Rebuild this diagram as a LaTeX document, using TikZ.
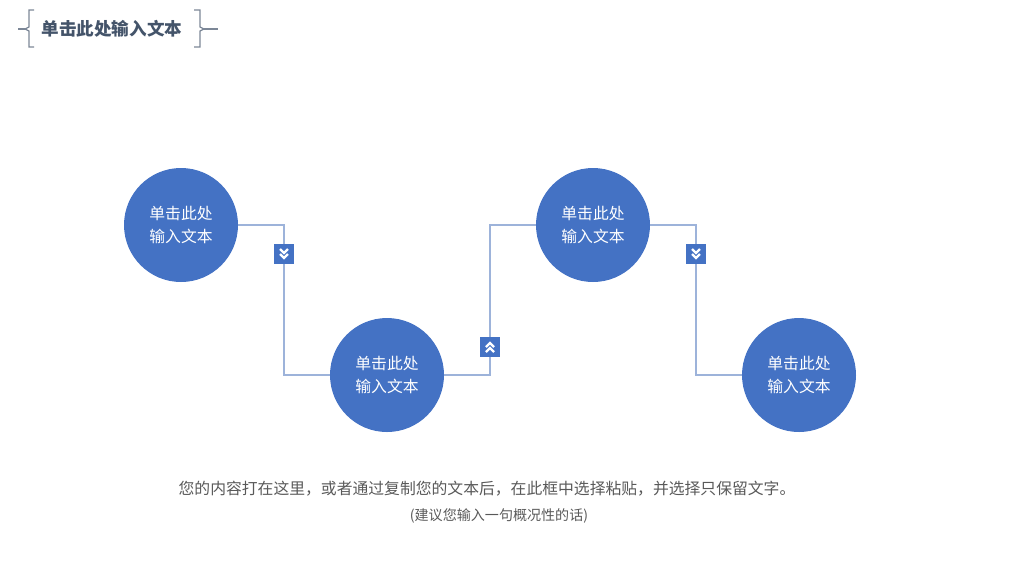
\documentclass[tikz,border=0pt]{standalone}
\usepackage{fontspec}
\setmainfont{Noto Sans CJK SC}
\usetikzlibrary{positioning}
\definecolor{mainblue}{HTML}{4472C4}
\definecolor{linkblue}{HTML}{9DB3DA}
\definecolor{titlegray}{HTML}{44546A}
\definecolor{textgray}{HTML}{595959}
\tikzset{
  stage/.style={circle, fill=mainblue, minimum size=114*0.02cm, inner sep=0pt, text=white, font=\fontsize{9}{13}\selectfont, align=center},
  marker/.style={fill=mainblue, minimum size=20*0.02cm, inner sep=0pt},
  link/.style={draw=linkblue, line width=0.8pt},
  chev/.style={draw=white, line width=1.3pt},
  brace/.style={draw=titlegray!70, line width=0.7pt}
}
\begin{document}
\begin{tikzpicture}[x=0.02cm, y=-0.02cm]
    \useasboundingbox (0,0) rectangle (1024,576);

    % Title.
    \node (title) [font=\bfseries\fontsize{10}{12}\selectfont, text=titlegray] at (112,29) {单击此处输入文本};
    \draw [brace] (34,10) -- (29,10) -- (29,27) -- (25,29) -- (29,31) -- (29,47) -- (34,47);
    \draw [brace] (25,29) -- (18,29);
    \draw [brace] (194,10) -- (200,10) -- (200,27) -- (204,29) -- (200,31) -- (200,47) -- (194,47);
    \draw [brace] (204,29) -- (218,29);

    % Stages.
    \node (stage 1) [stage] at (181,225) {单击此处\\输入文本};
    \node (stage 2) [stage] at (387,375) {单击此处\\输入文本};
    \node (stage 3) [stage] at (593,225) {单击此处\\输入文本};
    \node (stage 4) [stage] at (799,375) {单击此处\\输入文本};

    % Links.
    \draw [link] (stage 1.east) -| (284,300) |- (stage 2.west);
    \draw [link] (stage 2.east) -| (490,300) |- (stage 3.west);
    \draw [link] (stage 3.east) -| (696,300) |- (stage 4.west);

    % Markers.
    \node (marker 1) [marker] at (284,254) {};
    \node (marker 2) [marker] at (490,347) {};
    \node (marker 3) [marker] at (696,254) {};
    \foreach \m in {1, 3} {
        \draw [chev] ([shift={(-4,-5)}]marker \m.center) -- ([shift={(0,-1)}]marker \m.center) -- ([shift={(4,-5)}]marker \m.center);
        \draw [chev] ([shift={(-4,0)}]marker \m.center) -- ([shift={(0,4)}]marker \m.center) -- ([shift={(4,0)}]marker \m.center);
    }
    \draw [chev] ([shift={(-4,5)}]marker 2.center) -- ([shift={(0,1)}]marker 2.center) -- ([shift={(4,5)}]marker 2.center);
    \draw [chev] ([shift={(-4,0)}]marker 2.center) -- ([shift={(0,-4)}]marker 2.center) -- ([shift={(4,0)}]marker 2.center);

    % Notes.
    \node (note 1) [text=textgray, font=\fontsize{9}{11}\selectfont] at (487,489) {您的内容打在这里，或者通过复制您的文本后，在此框中选择粘贴，并选择只保留文字。};
    \node (note 2) [text=textgray, font=\fontsize{8}{10}\selectfont] at (499,516) {(建议您输入一句概况性的话)};
\end{tikzpicture}
\end{document}
